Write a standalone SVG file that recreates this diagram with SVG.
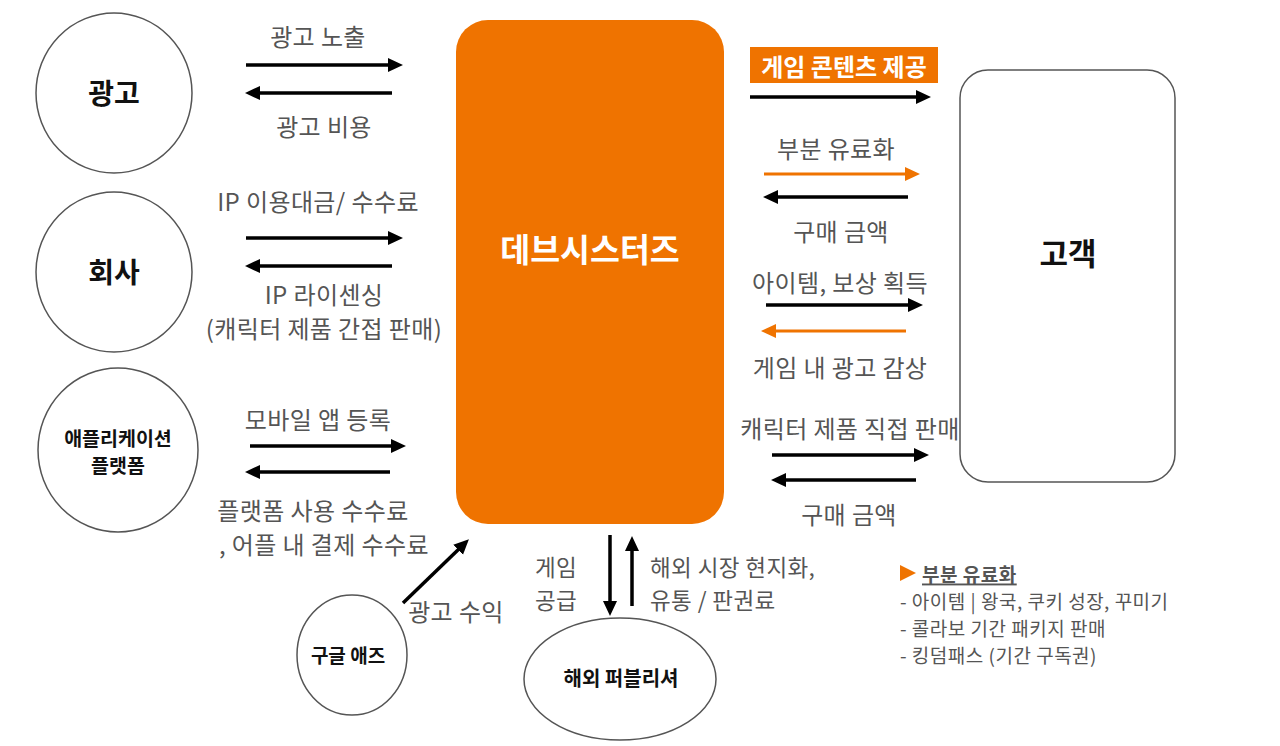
<svg xmlns="http://www.w3.org/2000/svg" width="1280" height="746" viewBox="0 0 1280 746">
<defs>
<style>
.node{fill:#fff;stroke:#555;stroke-width:1.5}
.nl{font-family:"Noto Sans CJK KR","Noto Sans",sans-serif;font-weight:bold;fill:#111;text-anchor:middle;dominant-baseline:central}
.lb{font-family:"Noto Sans CJK KR","Noto Sans",sans-serif;font-size:24px;letter-spacing:0.4px;fill:#555;text-anchor:middle;dominant-baseline:central}
.lg{font-family:"Noto Sans CJK KR","Noto Sans",sans-serif;font-size:19px;letter-spacing:0.5px;fill:#555;dominant-baseline:central}
.k{stroke:#000;stroke-width:3.5;fill:none}
.o{stroke:#EF7300;stroke-width:3;fill:none}
</style>
<marker id="ak" markerUnits="userSpaceOnUse" markerWidth="16" markerHeight="16" refX="4" refY="7" orient="auto"><path d="M0,0 L15,7 L0,14 z" fill="#000"/></marker>
<marker id="ao" markerUnits="userSpaceOnUse" markerWidth="16" markerHeight="16" refX="4" refY="7" orient="auto"><path d="M0,0 L15,7 L0,14 z" fill="#EF7300"/></marker>
</defs>
<rect width="1280" height="746" fill="#fff"/>

<g id="node-ad"><ellipse class="node" cx="114" cy="93" rx="78" ry="80"/><text class="nl" x="114" y="92" font-size="28">광고</text></g>
<g id="node-company"><ellipse class="node" cx="114" cy="272" rx="78" ry="80"/><text class="nl" x="114" y="271" font-size="28">회사</text></g>
<g id="node-platform"><ellipse class="node" cx="118" cy="450" rx="80" ry="82"/><text class="nl" x="118" y="437" font-size="19.5">애플리케이션</text><text class="nl" x="118" y="464" font-size="19.5">플랫폼</text></g>
<g id="node-google"><ellipse class="node" cx="352" cy="655" rx="55" ry="60"/><text class="nl" x="348" y="654" font-size="19">구글 애즈</text></g>
<g id="node-publisher"><ellipse class="node" cx="620" cy="679" rx="96" ry="61"/><text class="nl" x="621" y="677" font-size="20">해외 퍼블리셔</text></g>
<g id="node-devsisters"><rect x="456" y="20" width="268" height="504" rx="32" fill="#EF7300"/><text class="nl" x="590" y="247" font-size="32.5" style="fill:#fff">데브시스터즈</text></g>
<g id="node-customer"><rect class="node" x="960" y="70" width="215" height="412" rx="28"/><text class="nl" x="1068" y="251" font-size="31">고객</text></g>

<g id="connectors">
<line class="k" x1="246" y1="65" x2="392" y2="65" marker-end="url(#ak)"/>
<line class="k" x1="392" y1="93" x2="256" y2="93" marker-end="url(#ak)"/>
<line class="k" x1="246" y1="238" x2="392" y2="238" marker-end="url(#ak)"/>
<line class="k" x1="392" y1="266" x2="256" y2="266" marker-end="url(#ak)"/>
<line class="k" x1="250" y1="446" x2="395" y2="446" marker-end="url(#ak)"/>
<line class="k" x1="390" y1="472" x2="256" y2="472" marker-end="url(#ak)"/>
<line class="k" x1="403" y1="603" x2="461" y2="547" marker-end="url(#ak)"/>
<line class="k" x1="610" y1="535" x2="610" y2="605" marker-end="url(#ak)"/>
<line class="k" x1="632" y1="606" x2="632" y2="547" marker-end="url(#ak)"/>
<line class="k" x1="750" y1="97" x2="920" y2="97" marker-end="url(#ak)"/>
<line class="o" x1="764" y1="174" x2="909" y2="174" marker-end="url(#ao)"/>
<line class="k" x1="908" y1="197" x2="774" y2="197" marker-end="url(#ak)"/>
<line class="k" x1="766" y1="305" x2="912" y2="305" marker-end="url(#ak)"/>
<line class="o" x1="906" y1="331" x2="772" y2="331" marker-end="url(#ao)"/>
<line class="k" x1="772" y1="455" x2="918" y2="455" marker-end="url(#ak)"/>
<line class="k" x1="916" y1="480" x2="782" y2="480" marker-end="url(#ak)"/>
</g>

<g id="labels">
<text class="lb" x="318" y="35">광고 노출</text>
<text class="lb" x="324" y="125">광고 비용</text>
<text class="lb" x="318" y="200">IP 이용대금/ 수수료</text>
<text class="lb" x="324" y="293">IP 라이센싱</text>
<text class="lb" x="324" y="327">(캐릭터 제품 간접 판매)</text>
<text class="lb" x="318" y="418">모바일 앱 등록</text>
<text class="lb" x="313" y="509">플랫폼 사용 수수료</text>
<text class="lb" x="324" y="543">, 어플 내 결제 수수료</text>
<text class="lb" x="456" y="610">광고 수익</text>
<text class="lb" x="556" y="566" font-size="22.5" style="font-size:22.5px">게임</text>
<text class="lb" x="556" y="599" style="font-size:22.5px">공급</text>
<text class="lb" x="650" y="566" style="text-anchor:start;font-size:22.5px">해외 시장 현지화,</text>
<text class="lb" x="650" y="599" style="text-anchor:start;font-size:22.5px">유통 / 판권료</text>
<rect x="750" y="47" width="188" height="36" fill="#EF7300"/>
<text class="nl" x="844" y="65" font-size="24" style="fill:#fff">게임 콘텐츠 제공</text>
<text class="lb" x="836" y="147">부분 유료화</text>
<text class="lb" x="841" y="230">구매 금액</text>
<text class="lb" x="840" y="281">아이템, 보상 획득</text>
<text class="lb" x="840" y="366">게임 내 광고 감상</text>
<text class="lb" x="850" y="427">캐릭터 제품 직접 판매</text>
<text class="lb" x="849" y="513">구매 금액</text>
</g>

<g id="legend">
<path d="M900,565 L916,573 L900,581 z" fill="#EF7300"/>
<text class="lg" x="922" y="573" font-weight="bold" text-decoration="underline">부분 유료화</text>
<text class="lg" x="900" y="600">- 아이템 | 왕국, 쿠키 성장, 꾸미기</text>
<text class="lg" x="900" y="627">- 콜라보 기간 패키지 판매</text>
<text class="lg" x="900" y="654">- 킹덤패스 (기간 구독권)</text>
</g>
</svg>
